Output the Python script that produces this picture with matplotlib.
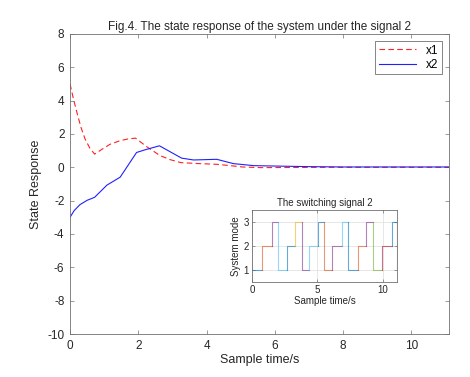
import numpy as np
import matplotlib
matplotlib.use('Agg')
import matplotlib.pyplot as plt

plt.rcParams['font.family'] = ['Liberation Sans', 'DejaVu Sans']
plt.rcParams['axes.unicode_minus'] = False

# state x1 (red dashed)
t_x1 = [0, 0.1, 0.2, 0.32, 0.44, 0.58, 0.72, 0.95, 1.17, 1.47, 1.7, 1.92,
        2.25, 2.64, 2.95, 3.25, 3.8, 4.3, 4.7, 5.05, 5.6, 6.5, 7.5, 9, 11.1]
x1 = [5.0, 4.1, 3.3, 2.4, 1.7, 1.15, 0.79, 1.1, 1.38, 1.6, 1.7, 1.75,
      1.23, 0.7, 0.45, 0.28, 0.22, 0.18, 0.1, 0.02, -0.02, -0.01, 0.0, 0.0, 0.0]

# state x2 (blue solid)
t_x2 = [0, 0.12, 0.29, 0.5, 0.72, 1.08, 1.47, 1.95, 2.2, 2.62, 3.27, 3.62,
        4.3, 4.79, 5.38, 6.16, 7.0, 8.0, 9.0, 11.1]
x2 = [-3.0, -2.6, -2.24, -1.98, -1.8, -1.07, -0.59, 0.89, 1.05, 1.29, 0.55, 0.44,
      0.48, 0.22, 0.1, 0.07, 0.04, 0.02, 0.02, 0.02]

# switching signal 2: switching instants and active mode
t_switch = [0, 0.74, 1.51, 2.02, 2.68, 3.29, 3.80, 4.39, 5.03, 5.48, 6.15,
            6.86, 7.37, 8.09, 8.75, 9.23, 9.97, 10.74, 11.1]
mode = [1, 2, 3, 1, 2, 3, 1, 2, 3, 1, 2, 3, 1, 2, 3, 1, 2, 3, 1]

seg_colors = ['#0072BD', '#D95319', '#7E2F8E', '#4DBEEE', '#0072BD', '#EDB120',
              '#7E2F8E', '#4DBEEE', '#0072BD', '#D95319', '#7E2F8E', '#4DBEEE',
              '#0072BD', '#D95319', '#7E2F8E', '#77AC30', '#A2142F', '#0072BD',
              '#D95319']

axis_color = '#707070'
text_color = '#262626'

fig = plt.figure(figsize=(4.70, 3.77), dpi=100)
ax = fig.add_axes([0.149, 0.114, 0.806, 0.796])

ax.plot(t_x1, x1, color='#FF2020', linestyle=(0, (5, 3)), linewidth=0.8, label='x1')
ax.plot(t_x2, x2, color='#2020FF', linewidth=0.8, label='x2')

ax.set_xlim(0, 11.1)
ax.set_ylim(-10, 8)
ax.set_xticks(np.arange(0, 11, 2))
ax.set_yticks(np.arange(-10, 9, 2))
ax.set_title('Fig.4. The state response of the system under the signal 2',
             fontsize=8.5, pad=3, color=text_color)
ax.set_xlabel('Sample time/s', fontsize=9, labelpad=2, color=text_color)
ax.set_ylabel('State Response', fontsize=9, labelpad=4, color=text_color)
ax.tick_params(direction='in', top=True, right=True, labelsize=8.5, length=3,
               width=0.5, color=axis_color, labelcolor=text_color, pad=4)
for s in ax.spines.values():
    s.set_color(axis_color)
    s.set_linewidth(0.6)

leg = ax.legend(loc='upper right', fontsize=8.5, fancybox=False, framealpha=1,
                borderaxespad=0.6, handlelength=3.2, borderpad=0.3, labelspacing=0.2)
leg.get_frame().set_edgecolor(axis_color)
leg.get_frame().set_linewidth(0.6)

# inset with the switching signal
axi = fig.add_axes([0.536, 0.252, 0.309, 0.191])
for i in range(len(t_switch) - 1):
    prev = mode[i - 1] if i > 0 else mode[i]
    axi.plot([t_switch[i], t_switch[i], t_switch[i + 1]], [prev, mode[i], mode[i]],
             color=seg_colors[i], linewidth=0.8, alpha=0.6)
# drop back at the end
axi.plot([t_switch[-1], t_switch[-1]], [mode[-2], mode[-1]], color=seg_colors[-1],
         linewidth=0.8, alpha=0.8)

axi.set_xlim(0, 11.1)
axi.set_ylim(0.5, 3.5)
axi.set_xticks([0, 5, 10])
axi.set_yticks([1, 2, 3])
axi.grid(True, color='#DDDDDD', linewidth=0.5)
axi.set_axisbelow(True)
axi.set_title('The switching signal 2', fontsize=7, pad=3, color=text_color)
axi.set_xlabel('Sample time/s', fontsize=7, labelpad=1, color=text_color)
axi.set_ylabel('System mode', fontsize=7, labelpad=2, color=text_color)
axi.tick_params(direction='in', top=True, right=True, labelsize=7, length=2,
                width=0.5, color=axis_color, labelcolor=text_color, pad=2)
for s in axi.spines.values():
    s.set_color(axis_color)
    s.set_linewidth(0.6)

fig.savefig('out.png', dpi=100)
